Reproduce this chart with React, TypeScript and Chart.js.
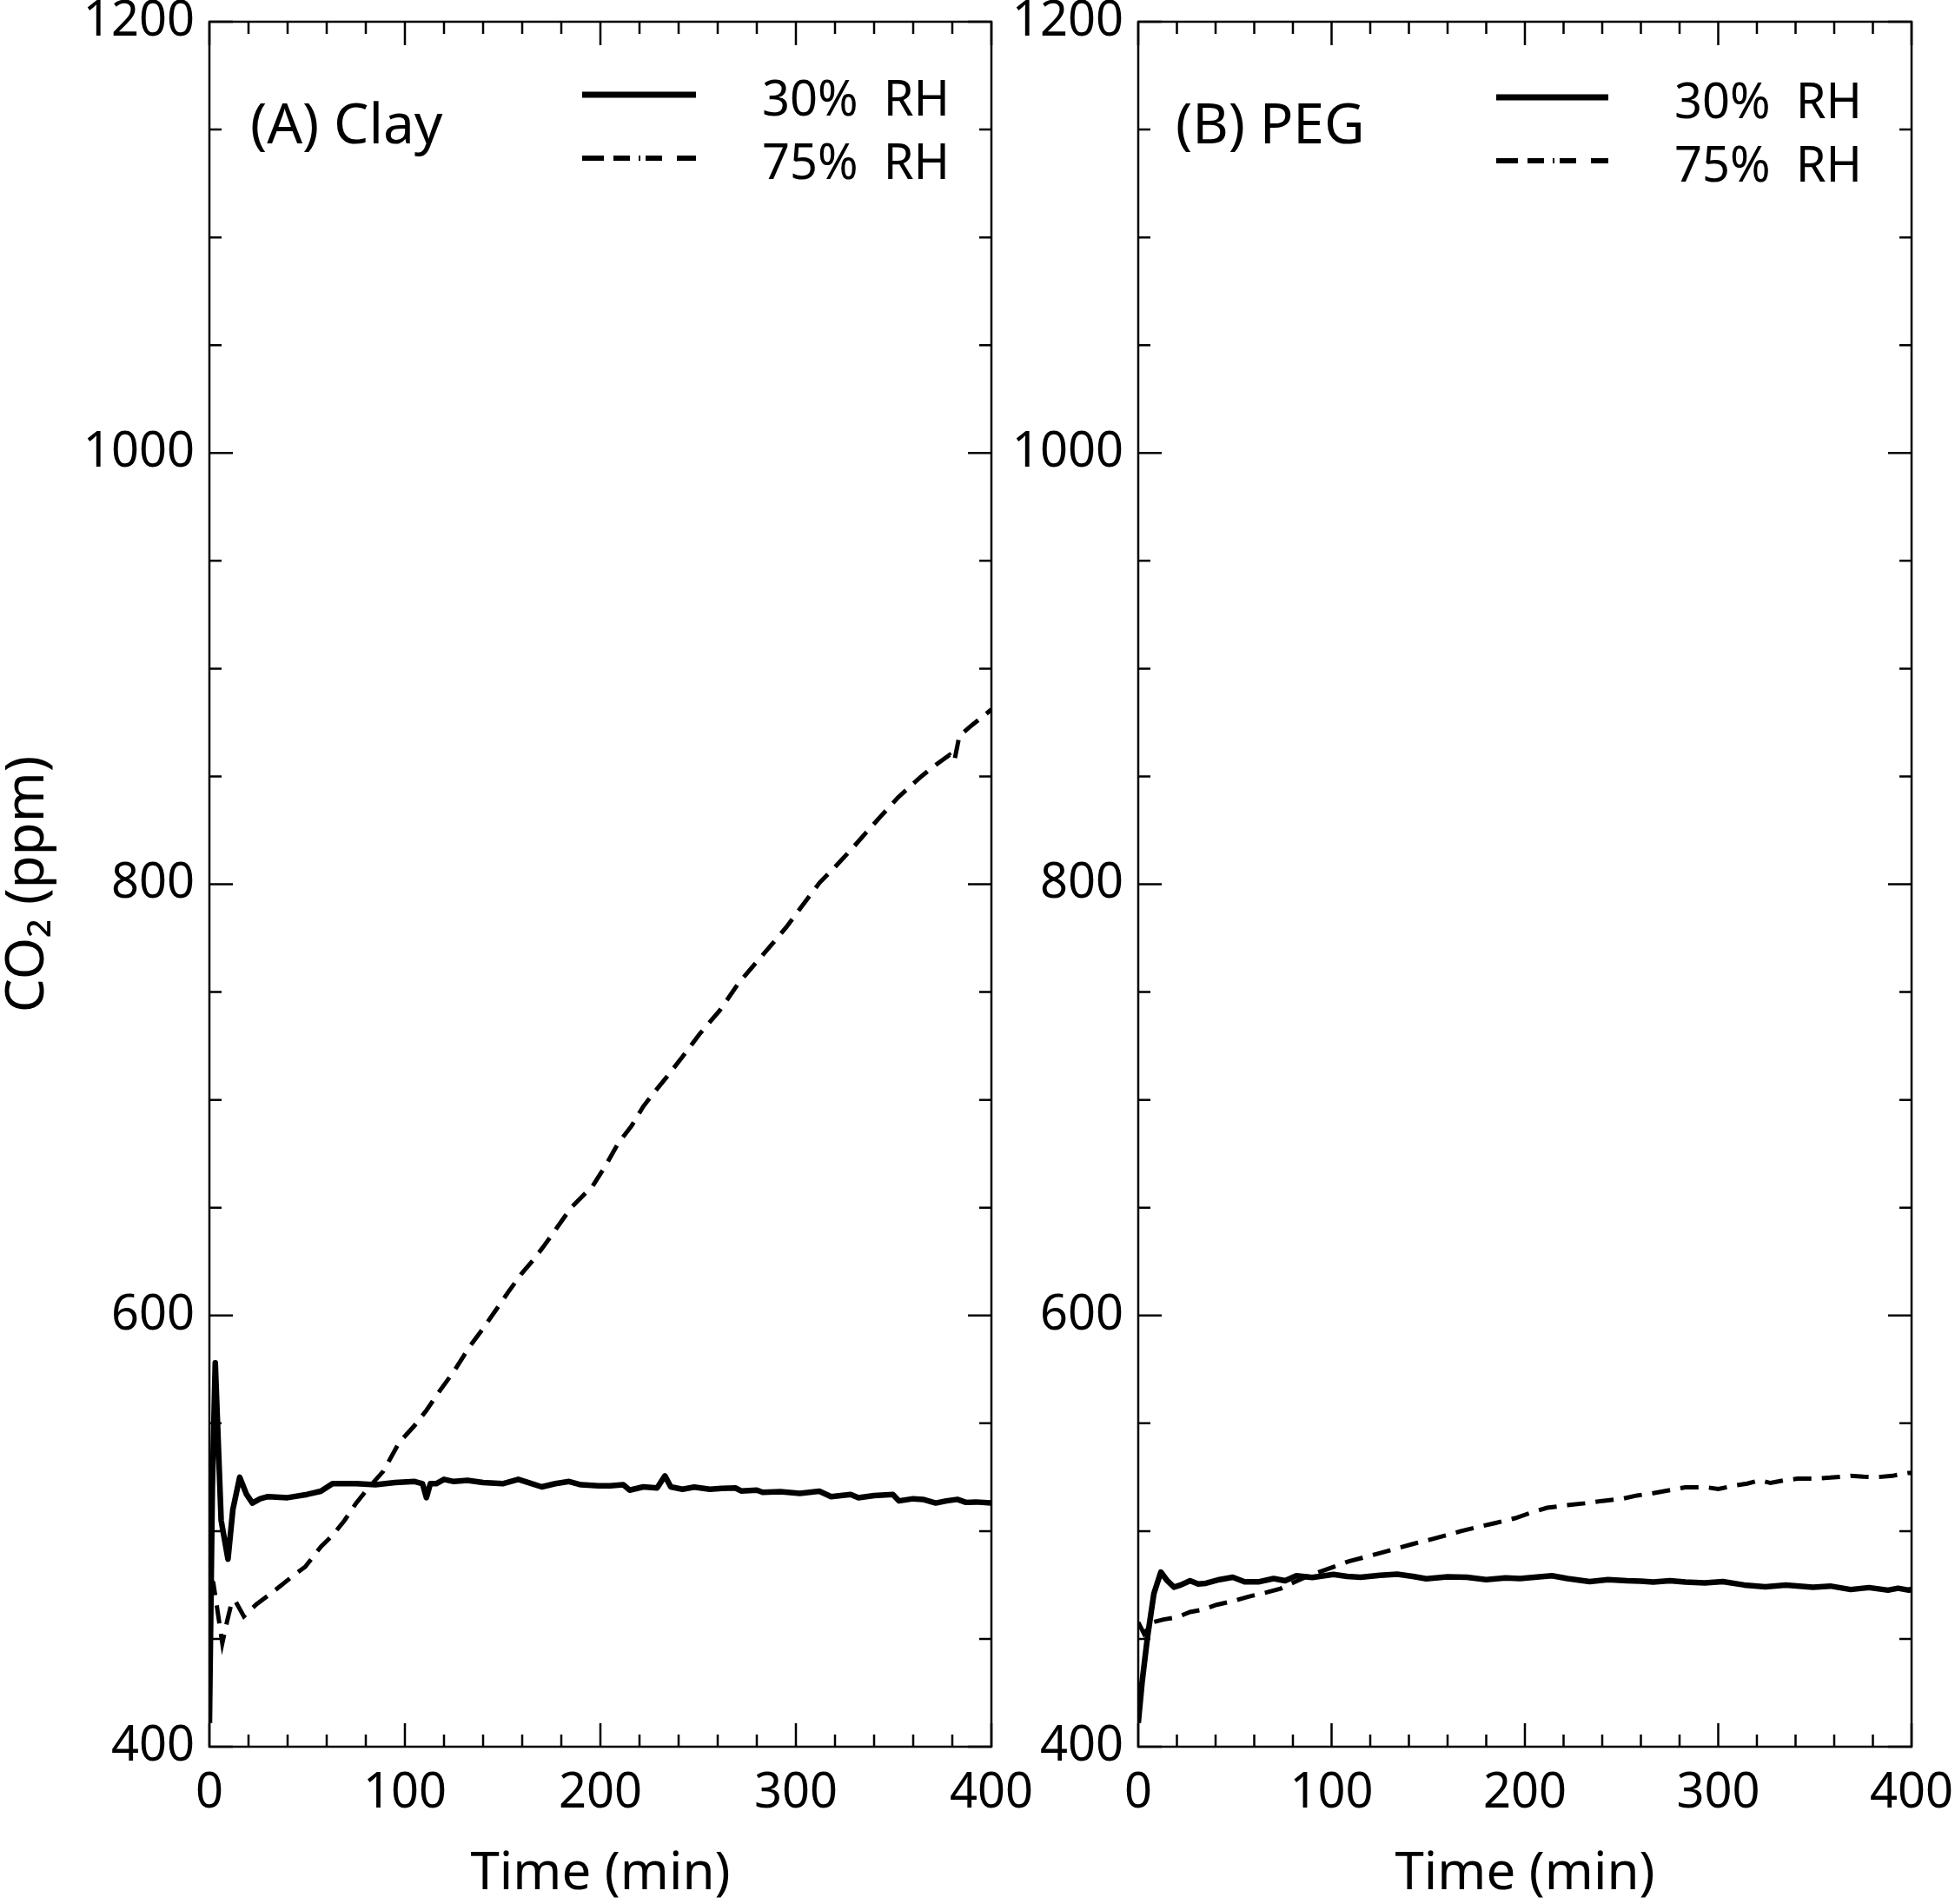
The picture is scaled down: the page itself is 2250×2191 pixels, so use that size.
import React, { useEffect, useRef } from "react";
import { Chart, registerables } from "chart.js";

Chart.register(...registerables);

// ---------- data ----------
const timeA30 = [0, 1.5, 3, 6, 9.5, 12, 15.5, 19, 22, 26, 30, 40, 50, 57, 63, 75, 85, 95, 105, 109, 111, 113, 116, 120, 125, 132, 140, 150, 158, 165, 170, 177, 184, 190, 199, 205, 211.7, 215, 222, 229, 233, 236, 242, 248, 256, 262, 269, 272, 280, 283, 292, 302, 312, 318, 328, 332, 340, 349.6, 352.7, 360, 365, 371.5, 377, 382.6, 387, 392, 400];
const co2A30 = [411, 520, 578, 505, 487, 510, 525, 517, 513, 515, 516, 515.5, 517, 518.5, 522, 522, 521.5, 522.5, 523, 522, 515.5, 522, 522, 524, 523, 523.5, 522.5, 522, 524, 522, 520.5, 522, 523, 521.5, 521, 521, 521.5, 519, 520.5, 520, 525.6, 520.5, 519.4, 520.4, 519.4, 519.8, 520, 518.6, 519, 518, 518.3, 517.5, 518.5, 516, 517, 515.5, 516.5, 517, 514, 515, 514.7, 513, 514, 514.7, 513.3, 513.5, 513];

const timeA75 = [0, 2, 4, 6.6, 9, 11.6, 13.6, 17.6, 24, 31.4, 43, 49, 57, 63, 69, 75, 81, 89, 97, 105, 111, 117, 125, 133, 140, 146.7, 153, 159.6, 165, 170.7, 178, 185, 196, 203, 209, 216, 222, 228, 234, 242, 250.7, 261, 270.6, 279, 288, 295, 301, 312, 320, 329, 336, 343.6, 352, 358, 364.4, 371, 378.6, 381, 383.6, 389, 394.5, 400];
const co2A75 = [478, 476, 464, 448, 458, 467.7, 467, 460.5, 466, 471, 479.4, 483.4, 492.7, 498, 504.8, 512.9, 519.7, 527.8, 541, 549, 556, 564, 574, 585.4, 594, 602.7, 611, 619.3, 625, 631.7, 641, 650, 660, 670, 679.7, 688, 697, 704, 710.7, 720, 730.5, 741.4, 754, 763, 772.4, 780, 787.3, 800.6, 808, 816.8, 824, 831.7, 840, 845, 850.2, 855, 860, 857, 868.7, 873, 877, 881];

const timeB30 = [0, 2, 4.8, 8.1, 11.7, 15, 18.5, 22, 26.8, 31, 35, 42, 48.9, 55, 62.6, 70, 76, 81.8, 90, 101, 108, 115, 125, 134, 142, 149, 160, 170, 180, 190, 197.5, 205, 214, 222, 233.5, 243, 252.8, 260, 266.4, 275, 283, 293, 302.4, 313.4, 324.4, 335, 349, 358, 368.5, 378, 387.8, 393, 398.6, 400];
const co2B30 = [411, 430, 451, 471, 481, 477, 474, 475, 477, 475.5, 475.8, 477.5, 478.6, 476.5, 476.5, 478, 477, 479.3, 478.5, 479.9, 479, 478.6, 479.5, 480, 479, 477.9, 478.8, 478.6, 477.5, 478.3, 478, 478.6, 479.3, 478, 476.6, 477.5, 477, 476.8, 476.4, 477, 476.4, 476, 476.6, 475, 474.2, 475, 474, 474.5, 472.9, 473.8, 472.6, 473.5, 472.6, 473];

const timeB75 = [0, 3, 7.5, 13, 20, 26.8, 33, 40.5, 49, 57, 66, 73.6, 84.6, 92, 101, 109, 117.6, 126, 134, 142, 150.7, 159, 167, 176, 184, 195, 203, 211.5, 222, 231, 240, 250, 258, 266.4, 275, 283, 294, 300, 307.8, 315, 321.6, 327, 334, 341, 349, 358, 368.5, 375, 382, 390, 398.6, 400];
const co2B75 = [457.7, 452.4, 457.7, 459, 460, 462.5, 463.5, 465.8, 467.5, 469.6, 471.5, 473.3, 477.9, 480.5, 483.4, 486, 488, 490, 492, 494, 496, 498, 500, 502, 503.6, 506, 508.5, 510.8, 512, 512.9, 514, 514.9, 516.5, 517.6, 519, 520.3, 520.3, 519.5, 521, 522, 523.6, 522.3, 523.5, 524.3, 524.3, 524.8, 525.6, 525.2, 525, 525.6, 527, 527];

const xTickLabels = [0, 100, 200, 300, 400];
const yTickLabels = [400, 600, 800, 1000, 1200];
const xMinorStep = 20;
const yMinorStep = 50;
const panelLabels = ["(A) Clay", "(B) PEG"];
const legendLabels = ["30%  RH", "75%  RH"];
const xTitle = "Time (min)";
const yTitle = "CO\u2082 (ppm)";

const FONT = "'Noto Sans', 'DejaVu Sans', sans-serif";

const zip = (t: number[], v: number[]) => t.map((x, i) => ({ x, y: v[i] }));

const decor = {
  id: "decor",
  afterDatasetsDraw(chart: any, _args: any, opts: any) {
    const { ctx, chartArea: a, scales } = chart;
    const xs = scales.x;
    const ys = scales.y;
    ctx.save();
    ctx.strokeStyle = "#000";
    ctx.lineWidth = 2.5;
    ctx.lineCap = "butt";
    ctx.setLineDash([]);
    ctx.strokeRect(a.left, a.top, a.right - a.left, a.bottom - a.top);
    ctx.beginPath();
    const x0 = xTickLabels[0];
    const x1 = xTickLabels[xTickLabels.length - 1];
    for (let v = x0; v <= x1; v += xMinorStep) {
      const px = xs.getPixelForValue(v);
      const len = xTickLabels.includes(v) ? 27 : 14;
      ctx.moveTo(px, a.bottom);
      ctx.lineTo(px, a.bottom - len);
      ctx.moveTo(px, a.top);
      ctx.lineTo(px, a.top + len);
    }
    const y0 = yTickLabels[0];
    const y1 = yTickLabels[yTickLabels.length - 1];
    for (let v = y0; v <= y1; v += yMinorStep) {
      const py = ys.getPixelForValue(v);
      const len = yTickLabels.includes(v) ? 27 : 14;
      ctx.moveTo(a.left, py);
      ctx.lineTo(a.left + len, py);
      ctx.moveTo(a.right, py);
      ctx.lineTo(a.right - len, py);
    }
    ctx.stroke();

    // panel label
    ctx.fillStyle = "#000";
    ctx.textAlign = "left";
    ctx.textBaseline = "alphabetic";
    ctx.font = `64px ${FONT}`;
    ctx.fillText(opts.label, a.left + opts.labelDx, a.top + 140);

    // legend
    ctx.lineWidth = 7;
    ctx.beginPath();
    ctx.moveTo(a.left + opts.legLine0, a.top + opts.legY0);
    ctx.lineTo(a.left + opts.legLine1, a.top + opts.legY0);
    ctx.stroke();
    ctx.lineWidth = 6;
    ctx.setLineDash([25, 11, 19, 10, 2, 6, 19, 17, 23]);
    ctx.beginPath();
    ctx.moveTo(a.left + opts.legLine0, a.top + opts.legY1);
    ctx.lineTo(a.left + opts.legLine1, a.top + opts.legY1);
    ctx.stroke();
    ctx.setLineDash([]);
    ctx.font = `56px ${FONT}`;
    ctx.fillText(legendLabels[0], a.left + opts.legText, a.top + opts.legY0 + 24);
    ctx.fillText(legendLabels[1], a.left + opts.legText, a.top + opts.legY1 + 24);
    ctx.restore();
  },
};

function makeConfig(p: any) {
  return {
    type: "line",
    data: {
      datasets: [
        {
          label: legendLabels[0],
          data: zip(p.t30, p.v30),
          borderColor: "#000",
          borderWidth: 6.5,
          pointRadius: 0,
          tension: 0,
          fill: false,
          borderJoinStyle: "round",
        },
        {
          label: legendLabels[1],
          data: zip(p.t75, p.v75),
          borderColor: "#000",
          borderWidth: 5,
          borderDash: [21, 12],
          pointRadius: 0,
          tension: 0,
          fill: false,
        },
      ],
    },
    options: {
      animation: false,
      responsive: false,
      devicePixelRatio: 1,
      parsing: true,
      layout: { padding: { top: 25, right: p.padRight, left: 0, bottom: 0 } },
      plugins: {
        legend: { display: false },
        tooltip: { enabled: false },
        decor: p.decor,
      },
      scales: {
        x: {
          type: "linear",
          min: 0,
          max: 400,
          grid: { display: false, drawTicks: false },
          border: { display: false },
          ticks: {
            stepSize: 100,
            autoSkip: false,
            maxRotation: 0,
            padding: 20,
            color: "#000",
            font: { family: FONT, size: 56, lineHeight: 1.2 },
            callback: (v: any) => (xTickLabels.includes(v) ? String(v) : ""),
          },
          title: {
            display: true,
            text: xTitle,
            color: "#000",
            font: { family: FONT, size: 60, lineHeight: 1.0 },
            padding: { top: 0, bottom: 4 },
          },
          afterFit: (s: any) => {
            s.height = 181;
            s.paddingLeft = 0;
            s.paddingRight = 0;
          },
        },
        y: {
          type: "linear",
          min: 400,
          max: 1200,
          grid: { display: false, drawTicks: false },
          border: { display: false },
          ticks: {
            stepSize: 200,
            autoSkip: false,
            padding: 17,
            color: "#000",
            font: { family: FONT, size: 56, lineHeight: 1.2 },
            callback: (v: any) => (yTickLabels.includes(v) ? String(v) : ""),
          },
          title: {
            display: p.showYTitle,
            text: yTitle,
            color: "#000",
            font: { family: FONT, size: 62, lineHeight: 1.0 },
            padding: { top: 1, bottom: 0 },
          },
          afterFit: (s: any) => {
            s.width = p.yWidth;
            s.paddingTop = 0;
            s.paddingBottom = 0;
          },
        },
      },
    },
    plugins: [decor],
  } as any;
}

const panels = [
  {
    left: 0,
    width: 1200,
    yWidth: 241,
    padRight: 59,
    showYTitle: true,
    t30: timeA30,
    v30: co2A30,
    t75: timeA75,
    v75: co2A75,
    decor: { label: panelLabels[0], labelDx: 47, legLine0: 429, legLine1: 560, legText: 636, legY0: 84, legY1: 157 },
  },
  {
    left: 1100,
    width: 1150,
    yWidth: 210,
    padRight: 50,
    showYTitle: false,
    t30: timeB30,
    v30: co2B30,
    t75: timeB75,
    v75: co2B75,
    decor: { label: panelLabels[1], labelDx: 43, legLine0: 412, legLine1: 541, legText: 617, legY0: 87, legY1: 160 },
  },
];

function Panel({ p }: { p: any }) {
  const ref = useRef<HTMLCanvasElement | null>(null);
  useEffect(() => {
    if (!ref.current) return;
    const chart = new Chart(ref.current, makeConfig(p));
    return () => chart.destroy();
  }, [p]);
  return (
    <canvas
      ref={ref}
      width={p.width}
      height={2191}
      style={{ position: "absolute", left: p.left, top: 0, width: p.width, height: 2191 }}
    />
  );
}

export default function App() {
  return (
    <div style={{ position: "absolute", left: 0, top: 0, width: 2250, height: 2191, background: "#fff", overflow: "hidden" }}>
      {panels.map((p, i) => (
        <Panel key={i} p={p} />
      ))}
    </div>
  );
}
